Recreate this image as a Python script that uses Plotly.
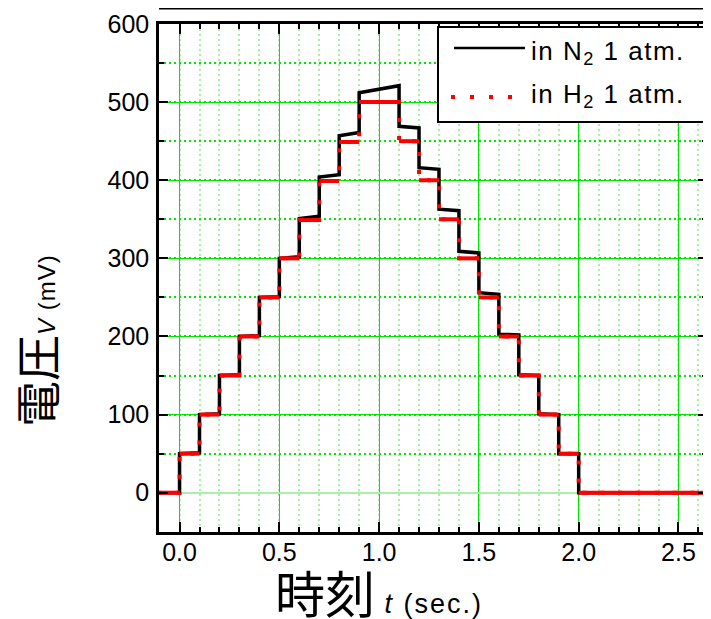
import plotly.graph_objects as go

# ---------------- data ----------------
step_start = [-0.11, 0.0, 0.1, 0.2, 0.3, 0.4, 0.5, 0.6, 0.7, 0.8, 0.9,
              1.1, 1.2, 1.3, 1.4, 1.5, 1.6, 1.7, 1.8, 1.9, 2.0]
step_end = [0.0, 0.1, 0.2, 0.3, 0.4, 0.5, 0.6, 0.7, 0.8, 0.9, 1.1,
            1.2, 1.3, 1.4, 1.5, 1.6, 1.7, 1.8, 1.9, 2.0, 2.66]
# N2 1 atm (black): voltage at start and end of each step (mV)
n2_start = [0, 50, 100, 150, 200, 250, 300, 351, 404, 457, 512,
            469, 416, 363, 309, 256, 203, 151, 101, 50, 0]
n2_end = [0, 51, 101, 151, 201, 251, 302, 354, 407, 461, 521,
          467, 414, 361, 307, 254, 202, 150, 100, 50, 0]
# H2 1 atm (red): voltage of each step (mV)
h2_level = [0, 50, 100, 150, 200, 250, 300, 349, 399, 449, 500,
            450, 400, 350, 300, 250, 200, 150, 100, 50, 0]

x_tickvals = [0.0, 0.5, 1.0, 1.5, 2.0, 2.5]
x_ticktext = ["0.0", "0.5", "1.0", "1.5", "2.0", "2.5"]
y_tickvals = [0, 100, 200, 300, 400, 500, 600]

series_names = ["in N<sub>2</sub> 1 atm.", "in H<sub>2</sub> 1 atm."]
y_title = "電圧"
y_unit = "<i>V</i> (mV)"
x_title = "時刻"
x_unit = "<i>t</i> (sec.)"

# ---------------- build paths ----------------
n2_x, n2_y = [], []
for s, e, a, b in zip(step_start, step_end, n2_start, n2_end):
    n2_x += [s, e]
    n2_y += [a, b]

h2_x, h2_y = [], []
h2_hx, h2_hy = [], []
for s, e, v in zip(step_start, step_end, h2_level):
    h2_x += [s, e]
    h2_y += [v, v]
    h2_hx += [s, e, None]
    h2_hy += [v, v, None]

# the page body adds an 8px offset; lay out in reference-window pixels
OFF = 8
W, H = 703, 611
L, R, T, B = 151, 4, 0, 87
PW, PH = W - L - R, H - T - B


def px(x):
    return (x - OFF - L) / PW


def py(y):
    return (PH - (y - OFF)) / PH


FONT = "Liberation Sans, Arial, sans-serif"
CJK = "Noto Sans CJK JP"
GRID = "#00e600"
PALE = "#a8f0a8"

fig = go.Figure()
fig.add_trace(go.Scatter(x=n2_x, y=n2_y, mode="lines",
                         line=dict(color="black", width=3.5),
                         name="N2", showlegend=False))
fig.add_trace(go.Scatter(x=h2_hx, y=h2_hy, mode="lines",
                         line=dict(color="#ff0000", width=4),
                         name="H2", showlegend=False, connectgaps=False))
fig.add_trace(go.Scatter(x=h2_x, y=h2_y, mode="lines",
                         line=dict(color="#ff0000", width=4, dash="4px,14px"),
                         name="H2", showlegend=False))

x_range = [-0.103, 2.643]

fig.update_layout(
    width=W, height=H,
    margin=dict(l=L, r=R, t=T, b=B, autoexpand=False),
    paper_bgcolor="white", plot_bgcolor="white",
    showlegend=False,
    font=dict(family=FONT, size=25, color="black"),
    xaxis=dict(
        domain=[0, 1], range=x_range, anchor="y",
        tickvals=x_tickvals, ticktext=x_ticktext,
        ticks="inside", ticklen=10, tickwidth=2, tickcolor="black",
        showline=True, linewidth=2.5, linecolor="black", mirror="ticks",
        showgrid=True, gridcolor=GRID, gridwidth=1.2,
        zeroline=False, ticklabelstandoff=-4,
        minor=dict(dtick=0.1, tick0=0, ticks="inside", ticklen=5, tickwidth=2,
                   tickcolor="black", showgrid=True, gridcolor=PALE,
                   gridwidth=1.5, griddash="2px,3px"),
        tickfont=dict(size=25, family=FONT),
    ),
    yaxis=dict(
        domain=[0, py(24)], range=[-50.3, 600], anchor="x",
        tickvals=y_tickvals,
        ticks="inside", ticklen=9, tickwidth=2, tickcolor="black",
        showline=True, linewidth=2.5, linecolor="black", mirror="ticks",
        showgrid=True, gridcolor=GRID, gridwidth=1.2,
        zeroline=True, zerolinecolor=PALE, zerolinewidth=2,
        ticklabelstandoff=2,
        minor=dict(dtick=50, tick0=0, ticks="inside", ticklen=5, tickwidth=2,
                   tickcolor="black", showgrid=True, gridcolor=GRID,
                   gridwidth=1.5, griddash="2px,3px"),
        tickfont=dict(size=25, family=FONT),
    ),
)

# bottom edge of the panel above (cut off at the top of the window)
fig.add_shape(type="line", xref="paper", yref="paper",
              x0=0, x1=1, y0=1, y1=1,
              line=dict(color="black", width=3))

# custom legend box
fig.add_shape(type="rect", xref="paper", yref="paper",
              x0=px(438), x1=px(707), y0=py(122), y1=py(27),
              line=dict(color="black", width=2), fillcolor="white", layer="above")
fig.add_shape(type="line", xref="paper", yref="paper",
              x0=px(454), x1=px(525), y0=py(48), y1=py(48),
              line=dict(color="black", width=2.5), layer="above")
fig.add_shape(type="line", xref="paper", yref="paper",
              x0=px(451), x1=px(516), y0=py(97), y1=py(97),
              line=dict(color="#ff0000", width=4, dash="4px,15px"), layer="above")
for name, ycen in zip(series_names, [52, 96]):
    fig.add_annotation(xref="paper", yref="paper", x=px(529), y=py(ycen),
                       text='<span style="letter-spacing:1.5px">' + name + '</span>',
                       showarrow=False, xanchor="left", yanchor="middle",
                       font=dict(family=FONT, size=26, color="black"))

# axis titles
fig.add_annotation(xref="paper", yref="paper", x=px(35), y=py(341),
                   text=y_title + '<span style="font-size:24px;font-family:Liberation Sans;letter-spacing:1px">'
                   + y_unit + '</span>',
                   textangle=-90, showarrow=False, xanchor="center", yanchor="middle",
                   borderpad=0,
                   font=dict(family=CJK, size=46, color="black"))
fig.add_annotation(xref="paper", yref="paper", x=px(379), y=py(591),
                   text=x_title + '<span style="font-size:27px;font-family:Liberation Sans;letter-spacing:2px"> '
                   + x_unit + '</span>',
                   showarrow=False, xanchor="center", yanchor="middle",
                   borderpad=0,
                   font=dict(family=CJK, size=50, color="black"))

fig.write_html("out.html")
